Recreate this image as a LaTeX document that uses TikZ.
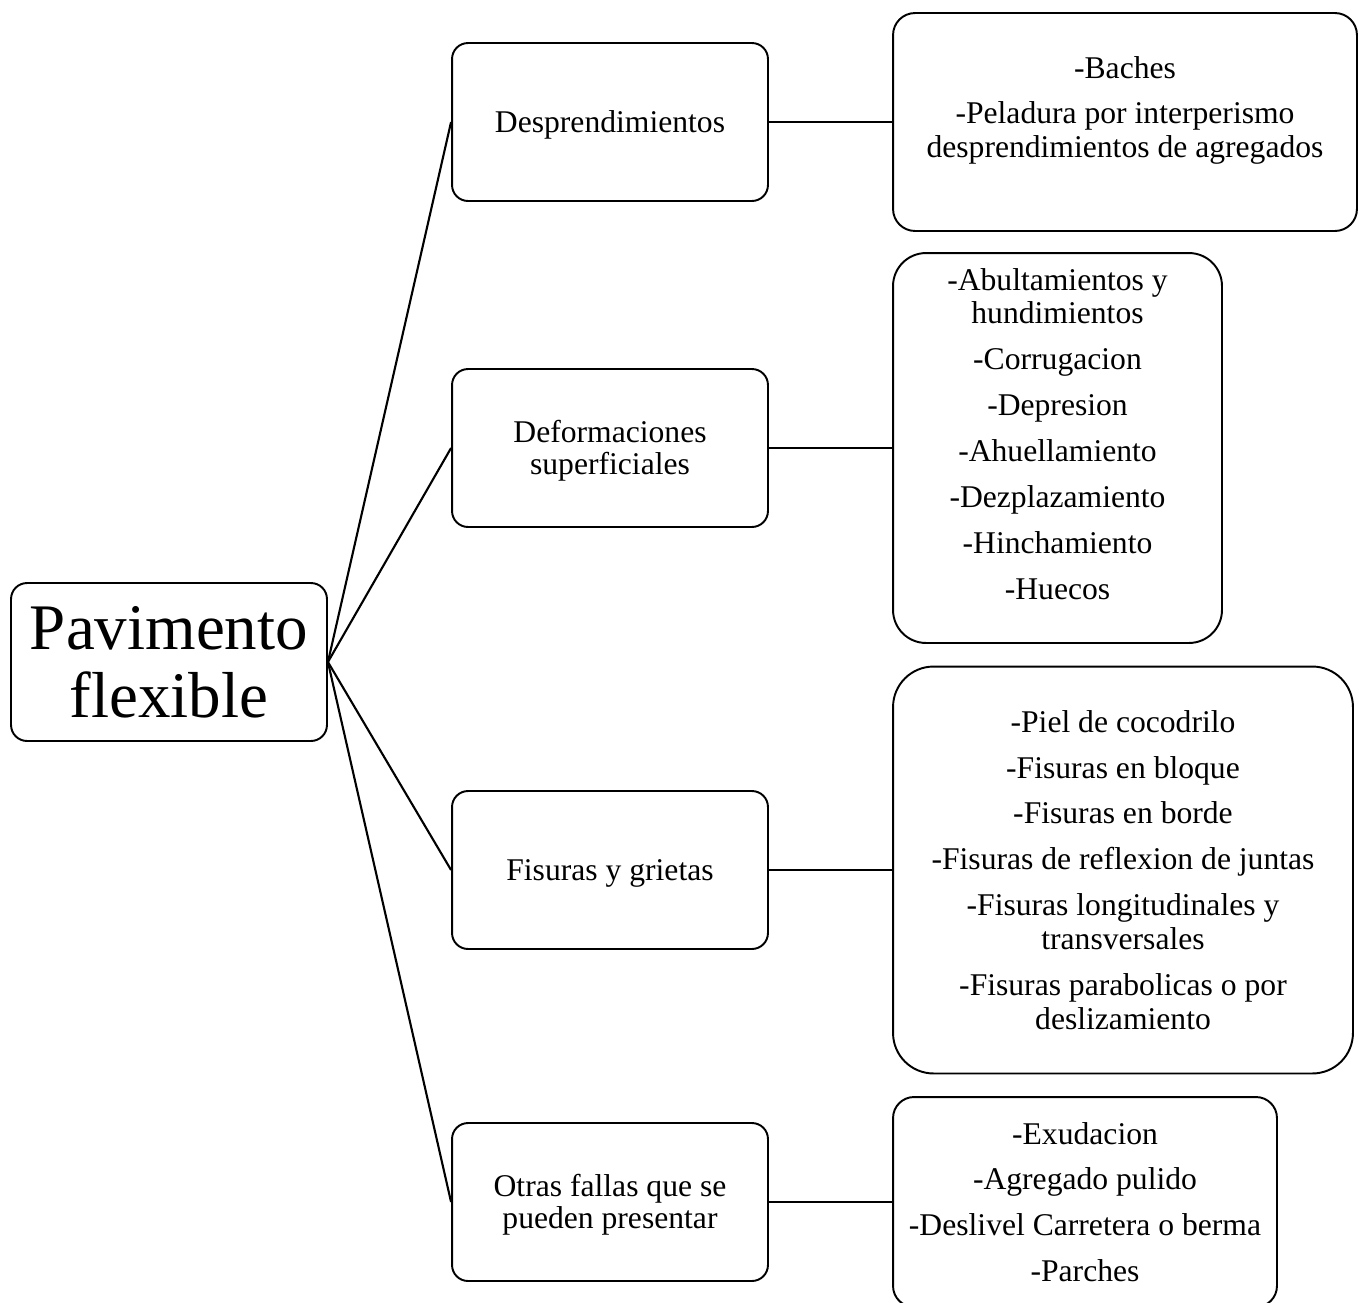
\documentclass[tikz,border=0pt]{standalone}
\usepackage{fontspec}
\setmainfont{Liberation Serif}
\newcommand{\padbelow}[1]{\rule[-#1]{0pt}{#1}}
\newcommand{\headroom}{\rule{0pt}{0.891em}}
\newcommand{\footroom}{\rule[-0.216em]{0pt}{0.216em}}
\tikzset{
  fallbox/.style={draw, line width=1.1pt, align=center, inner sep=0pt},
  rootbox/.style={fallbox, rounded corners=0.32cm, minimum width=6.32cm,
    minimum height=3.16cm, font=\fontsize{37}{38.6}\selectfont},
  catbox/.style={fallbox, rounded corners=0.32cm, minimum width=6.32cm,
    minimum height=3.16cm, font=\fontsize{18}{18.5}\selectfont},
  listbox/.style={fallbox, font=\fontsize{18}{19.3}\selectfont},
  link/.style={line width=1.2pt}
}
\begin{document}
\begin{tikzpicture}[x=0.02cm,y=-0.02cm,line width=1.1pt]
      \useasboundingbox (0,0) rectangle (1359,1302);
      \node[rootbox] (root) at (169,662) {Pavimento\\flexible};
      \node[catbox] (desp) at (610,122) {\headroom Desprendimientos\footroom};
      \node[catbox] (defo) at (610,448) {\headroom Deformaciones\\superficiales\footroom};
      \node[catbox] (fisu) at (610,870) {\headroom Fisuras y grietas\footroom};
      \node[catbox] (otra) at (610,1202) {\headroom Otras fallas que se\\pueden presentar\footroom};
      \node[listbox, rounded corners=0.44cm, minimum width=9.28cm,
        minimum height=4.36cm] (ldesp) at (1125,122)
        {-Baches\\[6pt]-Peladura por interperismo\\desprendimientos de agregados\padbelow{17pt}};
      \node[listbox, rounded corners=0.66cm, minimum width=6.58cm,
        minimum height=7.8cm] (ldefo) at (1057.5,448)
        {-Abultamientos y\\hundimientos\\[6.8pt]-Corrugacion\\[6.8pt]-Depresion\\[6.8pt]%
         -Ahuellamiento\\[6.8pt]-Dezplazamiento\\[6.8pt]-Hinchamiento\\[6.8pt]-Huecos\padbelow{16.4pt}};
      \node[listbox, rounded corners=0.81cm, minimum width=9.2cm,
        minimum height=8.14cm] (lfisu) at (1123,870)
        {-Piel de cocodrilo\\[6.8pt]-Fisuras en bloque\\[6.8pt]-Fisuras en borde\\[6.8pt]%
         -Fisuras de reflexion de juntas\\[6.8pt]-Fisuras longitudinales y\\transversales\\[6.8pt]%
         -Fisuras parabolicas o por\\deslizamiento};
      \node[listbox, rounded corners=0.42cm, minimum width=7.68cm,
        minimum height=4.2cm] (lotra) at (1085,1202)
        {-Exudacion\\[6.8pt]-Agregado pulido\\[6.8pt]-Deslivel Carretera o berma\\[6.8pt]-Parches};
      \begin{scope}[link]
        \draw (root.east) to (desp.west);
        \draw (root.east) to (defo.west);
        \draw (root.east) to (fisu.west);
        \draw (root.east) to (otra.west);
        \draw (desp.east) to (ldesp.west);
        \draw (defo.east) to (ldefo.west);
        \draw (fisu.east) to (lfisu.west);
        \draw (otra.east) to (lotra.west);
      \end{scope}
    \end{tikzpicture}
\end{document}
